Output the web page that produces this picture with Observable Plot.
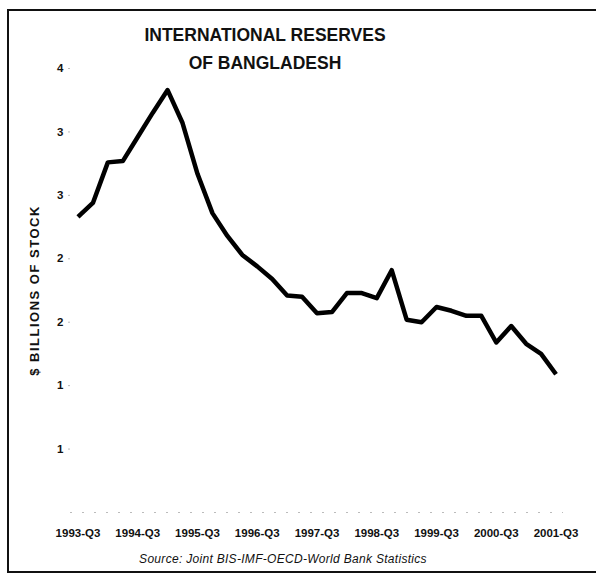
<!DOCTYPE html>
<html>
<head>
<meta charset="utf-8">
<script src="https://cdn.jsdelivr.net/npm/d3@7"></script>
<script src="https://cdn.jsdelivr.net/npm/@observablehq/plot@0.6"></script>
<style>
  html, body { margin: 0; padding: 0; background: #fff; overflow: hidden; }
  #wrap { position: relative; width: 596px; height: 575px; overflow: hidden; font-family: "Liberation Sans", Arial, sans-serif; }
  #frame { position: absolute; left: 7px; top: 9px; width: 640px; height: 564px; border-left: 2px solid #111; border-top: 2px solid #111; border-bottom: 2px solid #111; border-right: none; box-sizing: border-box; }
  #title { position: absolute; left: 0; width: 530px; top: 21px; text-align: center; font-weight: bold; font-size: 17.5px; line-height: 28px; color: #111; }
  #source { position: absolute; left: 0; width: 566px; top: 552px; text-align: center; font-style: italic; font-size: 12px; letter-spacing: 0.3px; color: #111; }
  #chart { position: absolute; left: 0; top: 0; }
</style>
</head>
<body>
<div id="wrap">
  <div id="frame"></div>
  <div id="chart"></div>
  <div id="title">INTERNATIONAL RESERVES<br>OF BANGLADESH</div>
  <div id="source">Source: Joint BIS-IMF-OECD-World Bank Statistics</div>
</div>
<script>
const quarters = [
  "1993-Q3","1993-Q4","1994-Q1","1994-Q2",
  "1994-Q3","1994-Q4","1995-Q1","1995-Q2",
  "1995-Q3","1995-Q4","1996-Q1","1996-Q2",
  "1996-Q3","1996-Q4","1997-Q1","1997-Q2",
  "1997-Q3","1997-Q4","1998-Q1","1998-Q2",
  "1998-Q3","1998-Q4","1999-Q1","1999-Q2",
  "1999-Q3","1999-Q4","2000-Q1","2000-Q2",
  "2000-Q3","2000-Q4","2001-Q1","2001-Q2",
  "2001-Q3"
];
const reserves = [
  2.83, 2.94, 3.26, 3.27,
  3.46, 3.65, 3.83, 3.57,
  3.17, 2.86, 2.68, 2.53,
  2.44, 2.34, 2.21, 2.20,
  2.07, 2.08, 2.23, 2.23,
  2.19, 2.41, 2.02, 2.00,
  2.12, 2.09, 2.05, 2.05,
  1.84, 1.97, 1.83, 1.75,
  1.59
];
const xTickLabels = ["1993-Q3","1994-Q3","1995-Q3","1996-Q3","1997-Q3","1998-Q3","1999-Q3","2000-Q3","2001-Q3"];
const yTicks = [1, 1.5, 2, 2.5, 3, 3.5, 4];
const yTickLabels = ["1", "1", "2", "2", "3", "3", "4"];

const data = quarters.map((q, i) => ({quarter: q, value: reserves[i]}));

const chart = Plot.plot({
  width: 596,
  height: 575,
  marginTop: 68,
  marginBottom: 63,
  marginLeft: 70,
  marginRight: 33,
  style: {fontFamily: "'Liberation Sans', Arial, sans-serif", background: "transparent", color: "#111"},
  x: {type: "point", domain: quarters, padding: 0.5},
  y: {domain: [0.5, 4]},
  marks: [
    Plot.ruleY([0.5], {stroke: "#bbb", strokeDasharray: "2,10", strokeWidth: 1}),
    Plot.axisY({
      ticks: yTicks,
      tickFormat: (d) => yTickLabels[yTicks.indexOf(d)],
      tickSize: 2,
      stroke: "#bbb",
      tickPadding: 5,
      fontSize: 11.5,
      fontWeight: "bold",
      label: "$ BILLIONS OF STOCK",
      labelAnchor: "center",
      labelArrow: "none",
      labelOffset: 41
    }),
    Plot.axisX({
      ticks: xTickLabels,
      tickSize: 0,
      tickPadding: 16,
      fontSize: 11.5,
      fontWeight: "bold",
      label: null
    }),
    Plot.line(data, {x: "quarter", y: "value", stroke: "#000", strokeWidth: 4.5, strokeLinejoin: "round", strokeLinecap: "butt"})
  ]
});
chart.querySelectorAll("g[aria-label='y-axis label'] text").forEach(t => {
  t.setAttribute("font-weight", "bold");
  t.setAttribute("font-size", "13");
  t.setAttribute("letter-spacing", "1.5");
});
document.getElementById("chart").appendChild(chart);
</script>
</body>
</html>
